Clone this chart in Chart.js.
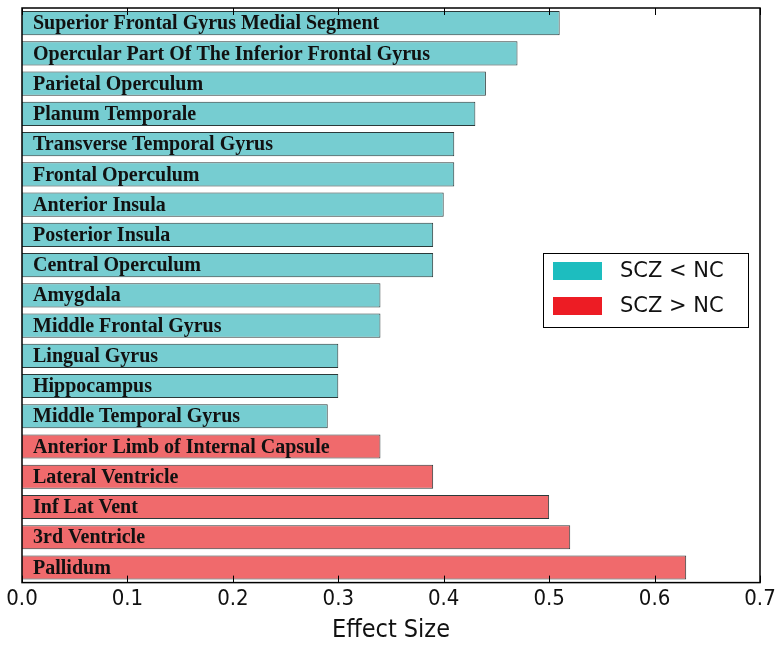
<!DOCTYPE html>
<html>
<head>
  <meta charset="UTF-8">
  <title>Effect Size</title>
  <style>
    body { margin: 0; padding: 0; background: white; }
    canvas { display: block; }
  </style>
  <script src="https://cdn.jsdelivr.net/npm/chart.js"></script>
</head>
<body>
  <canvas id="effectChart" width="780" height="645"></canvas>
  <script>
    const regions = [
      'Superior Frontal Gyrus Medial Segment',
      'Opercular Part Of The Inferior Frontal Gyrus',
      'Parietal Operculum',
      'Planum Temporale',
      'Transverse Temporal Gyrus',
      'Frontal Operculum',
      'Anterior Insula',
      'Posterior Insula',
      'Central Operculum',
      'Amygdala',
      'Middle Frontal Gyrus',
      'Lingual Gyrus',
      'Hippocampus',
      'Middle Temporal Gyrus',
      'Anterior Limb of Internal Capsule',
      'Lateral Ventricle',
      'Inf Lat Vent',
      '3rd Ventricle',
      'Pallidum'
    ];
    const effectSizes = [0.51, 0.47, 0.44, 0.43, 0.41, 0.41, 0.40, 0.39, 0.39, 0.34, 0.34, 0.30, 0.30, 0.29, 0.34, 0.39, 0.50, 0.52, 0.63];
    // 0 = SCZ < NC, 1 = SCZ > NC
    const groups = [0, 0, 0, 0, 0, 0, 0, 0, 0, 0, 0, 0, 0, 0, 1, 1, 1, 1, 1];
    const groupNames = ['SCZ < NC', 'SCZ > NC'];
    const xTicks = [0.0, 0.1, 0.2, 0.3, 0.4, 0.5, 0.6, 0.7];

    const barColors = ['#76cdd1', '#f06a6c'];
    const legendColors = ['#1dbdbf', '#ed1c24'];

    // bar labels, frame, inward ticks and legend
    const decorations = {
      id: 'decorations',
      afterDatasetsDraw(chart) {
        const ctx = chart.ctx;
        const area = chart.chartArea;
        const x = chart.scales.x;
        const y = chart.scales.y;
        ctx.save();
        // labels inside bars
        ctx.fillStyle = '#111';
        ctx.font = 'bold 20px "Liberation Serif", serif';
        ctx.textBaseline = 'middle';
        ctx.textAlign = 'left';
        regions.forEach((r, i) => {
          ctx.fillText(r, area.left + 11, y.getPixelForValue(i) + 1);
        });
        // frame
        ctx.strokeStyle = '#000';
        ctx.lineWidth = 1.5;
        ctx.strokeRect(area.left, area.top, area.right - area.left, area.bottom - area.top);
        // inward ticks top and bottom
        ctx.lineWidth = 1;
        xTicks.forEach(t => {
          const px = Math.round(x.getPixelForValue(t)) + 0.5;
          ctx.beginPath();
          ctx.moveTo(px, area.bottom);
          ctx.lineTo(px, area.bottom - 7);
          ctx.moveTo(px, area.top);
          ctx.lineTo(px, area.top + 7);
          ctx.stroke();
        });
        // legend
        const lx = 543, ly = 253, lw = 205, lh = 74;
        ctx.fillStyle = '#fff';
        ctx.fillRect(lx, ly, lw, lh);
        ctx.strokeStyle = '#000';
        ctx.strokeRect(lx + 0.5, ly + 0.5, lw, lh);
        ctx.font = '21px "DejaVu Sans", sans-serif';
        groupNames.forEach((g, i) => {
          const cy = ly + 18 + i * 35;
          ctx.fillStyle = legendColors[i];
          ctx.fillRect(lx + 10, cy - 9, 49, 18);
          ctx.fillStyle = '#111';
          ctx.fillText(g, lx + 77, cy + 1);
        });
        ctx.restore();
      }
    };

    const effectCtx = document.getElementById('effectChart').getContext('2d');
    const effectChart = new Chart(effectCtx, {
      type: 'bar',
      data: {
        labels: regions,
        datasets: [{
          label: 'Effect Size',
          data: effectSizes,
          backgroundColor: groups.map(g => barColors[g]),
          borderColor: '#2b3a3a',
          borderWidth: 1,
          barPercentage: 0.8,
          categoryPercentage: 1.0
        }]
      },
      options: {
        indexAxis: 'y',
        responsive: false,
        animation: false,
        layout: {
          padding: { left: 22, right: 20, top: 8, bottom: 0 }
        },
        scales: {
          x: {
            min: 0,
            max: 0.7,
            afterBuildTicks: axis => { axis.ticks = xTicks.map(v => ({ value: v })); },
            grid: { display: false, drawTicks: false },
            border: { display: false },
            ticks: {
              color: '#111',
              padding: 3,
              font: { family: '"DejaVu Sans Condensed", "Liberation Sans Narrow", sans-serif', size: 22 },
              callback: v => v.toFixed(1)
            },
            title: {
              display: true,
              text: 'Effect Size',
              color: '#111',
              padding: { top: 0, bottom: 0 },
              font: { family: '"DejaVu Sans Condensed", "Liberation Sans Narrow", sans-serif', size: 25 }
            }
          },
          y: {
            display: false
          }
        },
        plugins: {
          legend: { display: false },
          tooltip: { enabled: false }
        }
      },
      plugins: [decorations]
    });
  </script>
</body>
</html>
